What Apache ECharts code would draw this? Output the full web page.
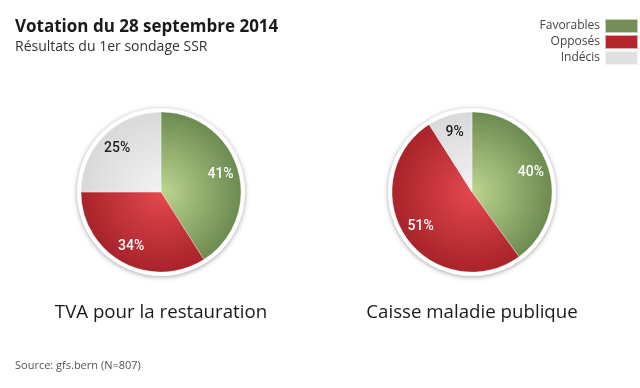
<!DOCTYPE html>
<html><head><meta charset="utf-8">
<script src="https://cdn.jsdelivr.net/npm/echarts@6/dist/echarts.min.js"></script>
<style>html,body{margin:0;padding:0;background:#fff}#c{width:640px;height:388px}</style>
</head><body><div id="c"></div>
<script>
const categories = ['Favorables', 'Opposés', 'Indécis'];
const pieTitles = ['TVA pour la restauration', 'Caisse maladie publique'];
const tvaValues = [41, 34, 25];
const caisseValues = [40, 51, 9];

const centers = [[161, 192], [472, 192]];
const R = 80;
const grads = [['#bcd690', '#6c8b50'], ['#e5484f', '#a8232a'], ['#f2f2f2', '#d9d9d9']];
const legendColors = ['#718f57', '#b5252b', '#e0e0e0'];
const font = '"Open Sans", "Noto Sans", sans-serif';

function grad(i, c) {
  return {type: 'radial', global: true, x: c[0], y: c[1], r: R,
    colorStops: [{offset: 0, color: grads[i][0]}, {offset: 1, color: grads[i][1]}]};
}

const allValues = [tvaValues, caisseValues];
const series = [];
allValues.forEach((vals, k) => {
  const c = centers[k];
  series.push({
    type: 'pie', silent: true, center: c, radius: [0, R + 4], z: 1,
    label: {show: false}, labelLine: {show: false},
    itemStyle: {color: '#fff', shadowBlur: 5, shadowColor: 'rgba(0,0,0,0.35)', shadowOffsetY: 1},
    data: [{value: 1, name: 'bg'}], legendHoverLink: false
  });
  series.push({
    type: 'pie', silent: true, center: c, radius: [0, R], startAngle: 90, clockwise: true, z: 2,
    label: {show: false}, labelLine: {show: false},
    itemStyle: {borderColor: 'rgba(255,255,255,0.6)', borderWidth: 0.5},
    data: vals.map((v, i) => ({value: v, name: categories[i], itemStyle: {color: grad(i, c)}}))
  });
  series.push({
    type: 'pie', silent: true, center: c, radius: [38, R], startAngle: 90, clockwise: true, z: 3,
    labelLine: {show: false},
    label: {show: true, position: 'inside', formatter: '{c}%', fontFamily: 'Roboto, sans-serif', fontSize: 14, fontWeight: 500},
    itemStyle: {color: 'transparent'},
    data: vals.map((v, i) => ({value: v, name: categories[i],
      label: {color: i === 2 ? '#222' : '#fff'}}))
  });
});

const chart = echarts.init(document.getElementById('c'), null, {renderer: 'canvas'});
chart.setOption({
  animation: false,
  color: legendColors,
  title: [
    {text: 'Votation du 28 septembre 2014', left: 15, top: 19, padding: 0,
     textStyle: {fontFamily: font, fontSize: 17, fontWeight: 'bold', color: '#1a1a1a'},
     subtext: 'Résultats du 1er sondage SSR', itemGap: 4,
     subtextStyle: {fontFamily: font, fontSize: 14, color: '#333'}},
    {text: pieTitles[0], left: centers[0][0], top: 303, textAlign: 'center', padding: 0,
     textStyle: {fontFamily: font, fontSize: 18.7, fontWeight: 'normal', color: '#1a1a1a'}},
    {text: pieTitles[1], left: centers[1][0], top: 303, textAlign: 'center', padding: 0,
     textStyle: {fontFamily: font, fontSize: 18.7, fontWeight: 'normal', color: '#1a1a1a'}},
    {text: 'Source: gfs.bern (N=807)', left: 15, top: 360, padding: 0,
     textStyle: {fontFamily: font, fontSize: 11, fontWeight: 'normal', color: '#555'}}
  ],
  legend: {
    orient: 'vertical', right: 1, top: 18, align: 'right', itemGap: 0,
    itemWidth: 33, itemHeight: 14, icon: 'rect', selectedMode: false,
    textStyle: {fontFamily: font, fontSize: 12, color: '#444', padding: [0, 0, 0, 0], lineHeight: 14},
    data: categories.map((n, i) => ({name: n, itemStyle: {color: legendColors[i]}})),
    padding: 0
  },
  series: series
});
</script></body></html>
